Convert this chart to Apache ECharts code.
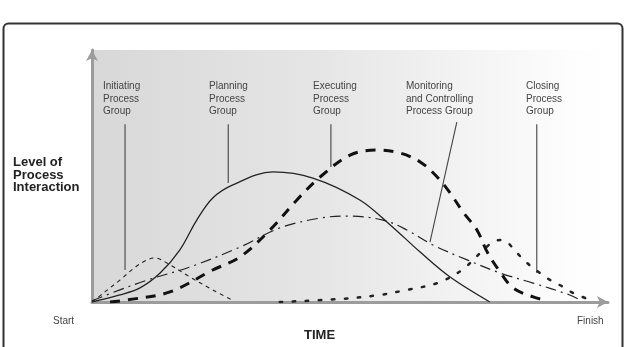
<!DOCTYPE html>
<html>
<head>
<meta charset="utf-8">
<script src="https://cdn.jsdelivr.net/npm/echarts@6/dist/echarts.min.js"></script>
<style>
  html, body { margin: 0; padding: 0; background: #fff; }
  #chart { width: 624px; height: 347px; }
</style>
</head>
<body>
<div id="chart"></div>
<script>
// time runs 0 (Start) .. 100 (Finish), level 0 .. 100
const initiating = [[0,0],[2.5,4],[5.4,8.7],[8.5,14],[10.7,16.7],[12.2,17.5],[14.5,15.5],[19,9.9],[23.4,4.8],[27.3,0.6]];
const planning = [[0,0],[5.4,2.8],[9.3,5.6],[13.2,11.5],[17,20.6],[20.3,32.5],[23.4,41.3],[27.3,46.5],[35.1,51.6],[42.8,49.2],[51.9,40.5],[57.8,30.6],[63.6,19.8],[69.4,9.9],[77.1,0]];
const executing = [[3.5,0],[6.8,0.8],[15.1,4],[23.4,12.7],[28.7,17.9],[34.5,28.6],[39.7,40.5],[44.2,49.6],[50,58.3],[55.2,60.3],[59.7,59.1],[63.6,55.6],[66.9,49.6],[69.4,43.3],[71.9,35.7],[74.6,28.6],[76.6,19.8],[79.1,11.9],[81.6,5.6],[85.5,2],[87.8,0.8]];
const monitoring = [[0,0.5],[5.4,4.8],[10.7,8.7],[19,13.9],[28.7,21.8],[36.4,29.4],[44.2,33.3],[49.4,34.1],[56.4,32.5],[61,28.6],[66.1,22.6],[72.7,16.7],[79.1,11.5],[85.5,7.5],[92.6,2.8],[94.2,1.2]];
const closing = [[36.4,0],[48.1,1.2],[55.8,2.8],[61,4.8],[66.9,7.5],[71.7,12.7],[75.8,20.6],[77.7,23.8],[79.1,24.6],[80.4,23.8],[82.4,19.4],[84.3,15.5],[86.8,11.5],[88.8,8.7],[91.3,6],[93.2,3.6],[96.1,1.2]];

// leader lines from the group labels down to the curves: [xTop, yTop, xBottom, yBottom]
const leaders = [
  [6.4, 70.5, 6.4, 12.7],
  [26.4, 70.5, 26.4, 47.2],
  [46.3, 70.5, 46.3, 53.6],
  [70.7, 71.4, 65.5, 23.8],
  [86.2, 70.5, 86.2, 11.5]
];
const groupLabels = ['Initiating\nProcess\nGroup', 'Planning\nProcess\nGroup', 'Executing\nProcess\nGroup', 'Monitoring\nand Controlling\nProcess Group', 'Closing\nProcess\nGroup'];
const labelX = [103, 209, 313, 406, 526];

const chart = echarts.init(document.getElementById('chart'));

function curve(data, lineStyle) {
  return {
    type: 'line', data: data, smooth: 0.35, symbol: 'none',
    lineStyle: Object.assign({ color: '#222' }, lineStyle),
    silent: true, z: 3
  };
}

const series = [
  curve(initiating, { width: 1.1, type: [4, 4] }),
  curve(planning, { width: 1.3, type: 'solid' }),
  curve(executing, { width: 3, type: [10, 8], color: '#111' }),
  curve(monitoring, { width: 1.2, type: [11, 5, 2, 5] }),
  curve(closing, { width: 2.5, type: [2.5, 10.5], cap: 'round' })
];
leaders.forEach(l => {
  series.push({
    type: 'line', data: [[l[0], l[1]], [l[2], l[3]]], symbol: 'none', silent: true,
    lineStyle: { color: '#444', width: 1.1 }, z: 2
  });
});

const texts = groupLabels.map((t, i) => ({
  type: 'text', left: labelX[i], top: 80,
  style: { text: t, fill: '#444', font: '10px "Liberation Sans", Arial, sans-serif', lineHeight: 12.5 }
}));

chart.setOption({
  animation: false,
  grid: {
    left: 92, top: 50, right: 16, bottom: 45, show: true, borderWidth: 0,
    backgroundColor: {
      type: 'linear', x: 0, y: 0, x2: 1, y2: 0,
      colorStops: [
        { offset: 0, color: '#d8d8d8' },
        { offset: 0.45, color: '#e6e6e6' },
        { offset: 0.93, color: '#fdfdfd' },
        { offset: 1, color: '#ffffff' }
      ]
    }
  },
  xAxis: {
    type: 'value', min: 0, max: 100,
    axisLine: { lineStyle: { color: '#9c9c9c', width: 3 }, symbol: ['none', 'arrow'], symbolSize: [9, 11] },
    axisTick: { show: false }, axisLabel: { show: false }, splitLine: { show: false }
  },
  yAxis: {
    type: 'value', min: 0, max: 100,
    axisLine: { show: true, lineStyle: { color: '#9c9c9c', width: 3 }, symbol: ['none', 'arrow'], symbolSize: [9, 11] },
    axisTick: { show: false }, axisLabel: { show: false }, splitLine: { show: false }
  },
  series: series,
  graphic: [
    {
      type: 'rect', left: 1, top: 21, z: -1,
      shape: { width: 619, height: 340, r: 5 },
      style: { fill: 'none', stroke: '#333', lineWidth: 2 }
    },
    {
      type: 'text', left: 13, top: 156,
      style: { text: 'Level of\nProcess\nInteraction', fill: '#222', font: 'bold 13px "Liberation Sans", Arial, sans-serif', lineHeight: 12.5 }
    },
    {
      type: 'text', left: 53, top: 316,
      style: { text: 'Start', fill: '#444', font: '10px "Liberation Sans", Arial, sans-serif' }
    },
    {
      type: 'text', left: 577, top: 316,
      style: { text: 'Finish', fill: '#444', font: '10px "Liberation Sans", Arial, sans-serif' }
    },
    {
      type: 'text', left: 304, top: 329,
      style: { text: 'TIME', fill: '#222', font: 'bold 13px "Liberation Sans", Arial, sans-serif' }
    }
  ].concat(texts)
});
</script>
</body>
</html>
